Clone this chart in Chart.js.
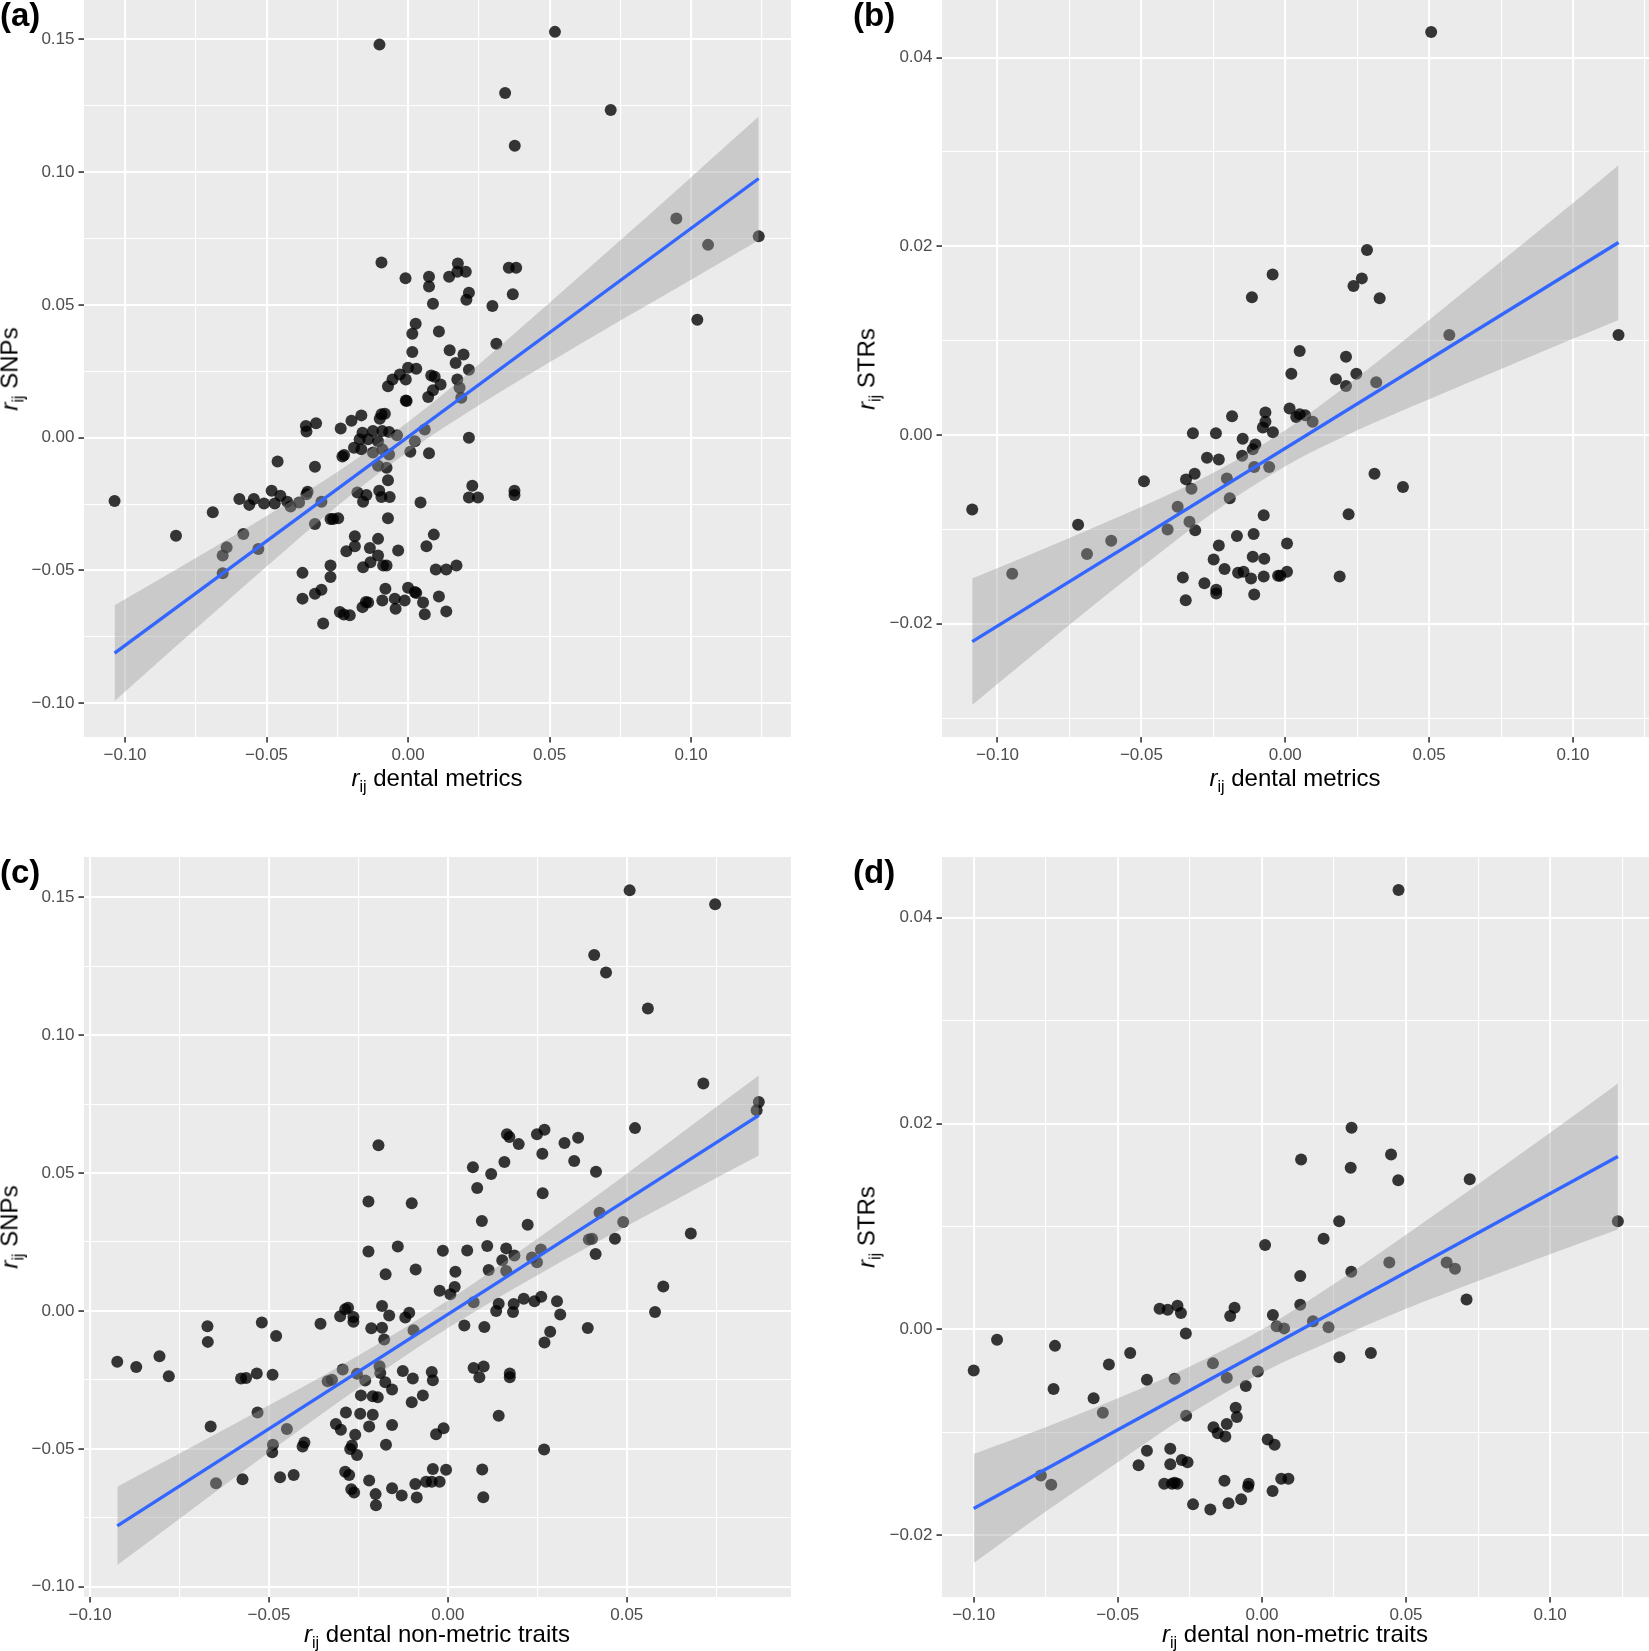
<!DOCTYPE html>
<html><head><meta charset="utf-8">
<script src="https://cdn.jsdelivr.net/npm/chart.js@4.4.0/dist/chart.umd.min.js"></script>
<style>
html,body{margin:0;padding:0;background:#fff;width:1649px;height:1651px;overflow:hidden;}
body{position:relative;}
canvas{position:absolute;z-index:1;}
.t{position:absolute;z-index:3;font-family:"Liberation Sans",Arial,Helvetica,sans-serif;color:#000;white-space:nowrap;}
.xt{font-size:24px;line-height:24px;transform:translateX(-50%);}
.yt{font-size:24px;line-height:24px;transform:translate(-50%,-50%) rotate(-90deg);}
.pl{font-size:33px;line-height:33px;font-weight:bold;}
.s{font-size:16px;position:relative;top:6px;}
</style></head><body>
<div class="t pl" style="left:0;top:-2px">(a)</div>
<div class="t pl" style="left:853px;top:-2px">(b)</div>
<div class="t pl" style="left:0;top:855px">(c)</div>
<div class="t pl" style="left:853px;top:855px">(d)</div>
<div class="t xt" style="left:437px;top:766px"><i>r</i><span class="s">ij</span> dental metrics</div>
<div class="t xt" style="left:1295px;top:766px"><i>r</i><span class="s">ij</span> dental metrics</div>
<div class="t xt" style="left:437px;top:1622px"><i>r</i><span class="s">ij</span> dental non-metric traits</div>
<div class="t xt" style="left:1295px;top:1622px"><i>r</i><span class="s">ij</span> dental non-metric traits</div>
<div class="t yt" style="left:11px;top:369px"><i>r</i><span class="s">ij</span> SNPs</div>
<div class="t yt" style="left:868px;top:369px"><i>r</i><span class="s">ij</span> STRs</div>
<div class="t yt" style="left:11px;top:1227px"><i>r</i><span class="s">ij</span> SNPs</div>
<div class="t yt" style="left:868px;top:1227px"><i>r</i><span class="s">ij</span> STRs</div>
<script>
// ---------- tick values and labels ----------
const xTicksA = [-0.1,-0.075,-0.05,-0.025,0,0.025,0.05,0.075,0.1,0.125];
const xLabelsA = ['−0.10','','−0.05','','0.00','','0.05','','0.10',''];
const xTicksC = [-0.1,-0.075,-0.05,-0.025,0,0.025,0.05,0.075];
const xLabelsC = ['−0.10','','−0.05','','0.00','','0.05',''];
const yTicksSNP = [-0.1,-0.075,-0.05,-0.025,0,0.025,0.05,0.075,0.1,0.125,0.15];
const yLabelsSNP = ['−0.10','','−0.05','','0.00','','0.05','','0.10','','0.15'];
const yTicksSTR = [-0.03,-0.02,-0.01,0,0.01,0.02,0.03,0.04];
const yLabelsSTR = ['','−0.02','','0.00','','0.02','','0.04'];

// ---------- axis ranges ----------
const aXRange = [-0.1145, 0.1353], aYRange = [-0.1127, 0.1648];
const bXRange = [-0.1193, 0.1264], bYRange = [-0.032, 0.0461];
const cXRange = [-0.1017, 0.0959], cYRange = [-0.1037, 0.1646];
const dXRange = [-0.111, 0.1343],  dYRange = [-0.026, 0.0459];

// ---------- panel (a): dental metrics vs SNPs ----------
const aX = [-0.0094,-0.0009,0.0074,0.0074,0.0145,0.0176,0.0174,0.0204,0.0356,0.0382,
0.0215,0.0206,0.0088,0.0298,0.037,0.0027,0.0015,0.0109,0.0312,0.0015,
0.0147,0.0196,0.0168,0.0215,0.0,0.0029,-0.0029,-0.0055,-0.0008,-0.0071,
0.0082,0.0094,0.0115,0.0088,0.0071,0.0174,0.0182,0.0188,-0.0008,-0.0005,
-0.0165,-0.02,-0.0238,-0.0094,-0.0082,-0.01,-0.0161,-0.0124,-0.0091,-0.0067,
-0.0171,-0.0141,-0.0106,-0.0191,-0.0165,-0.0124,-0.0091,-0.0067,-0.0039,-0.0226,
-0.0232,-0.0106,-0.0076,0.0008,0.0024,0.0059,0.0074,0.0215,-0.0071,-0.0361,
-0.0359,-0.0325,-0.0461,-0.0329,-0.0482,-0.0451,-0.0596,-0.0545,-0.0561,-0.0509,
-0.0471,-0.0427,-0.0415,-0.0385,-0.0359,-0.0355,-0.0306,-0.0179,-0.0147,-0.0159,
-0.0102,-0.0094,-0.0065,0.0044,0.0227,0.0215,0.0247,0.0376,0.0376,-0.069,
-0.082,-0.0582,-0.0641,-0.0655,-0.0655,-0.0529,-0.0329,-0.0274,-0.0265,-0.0247,
-0.0071,-0.0188,-0.0188,-0.0218,-0.0106,-0.0135,-0.0106,-0.0035,0.0091,0.0065,
-0.0274,-0.0274,-0.0373,-0.0159,-0.0133,-0.0088,-0.0076,0.0098,0.0135,0.0171,
-0.0373,-0.0329,-0.0306,-0.008,0.0,0.0024,0.0029,0.0109,-0.0161,-0.0149,
-0.0141,-0.0091,-0.0047,-0.0012,-0.0044,0.0053,0.0059,0.0135,-0.0241,-0.0227,
-0.0206,-0.03,-0.1037,-0.0101,0.0519,0.0343,0.0377,0.0716,0.0948,0.106,
0.1239,0.1022];
const aY = [0.066,0.06,0.0606,0.0569,0.0606,0.0656,0.0625,0.0625,0.064,0.064,
0.0546,0.0519,0.0504,0.0496,0.054,0.0429,0.0391,0.04,0.0354,0.0323,
0.0329,0.0313,0.0281,0.0256,0.0263,0.026,0.0238,0.0219,0.0219,0.0194,
0.0234,0.0229,0.02,0.0179,0.0153,0.0219,0.0188,0.015,0.014,0.0138,
0.0084,0.0064,0.0035,0.0088,0.009,0.0071,0.0019,0.0025,0.0025,0.0021,
-0.0006,-0.0006,-0.0013,-0.0038,-0.0044,-0.0056,-0.0044,-0.0063,0.0009,-0.0065,
-0.0071,-0.0106,-0.0113,-0.0053,-0.0013,0.0031,-0.0059,0.0,-0.016,0.0044,
0.0023,0.0054,-0.009,-0.0109,-0.02,-0.0219,-0.0231,-0.0231,-0.0253,-0.0248,
-0.0248,-0.0241,-0.0259,-0.0244,-0.0213,-0.0204,-0.0241,-0.0206,-0.0216,-0.0241,
-0.02,-0.0223,-0.0223,-0.0244,-0.0181,-0.0225,-0.0225,-0.02,-0.0216,-0.0281,
-0.0369,-0.0363,-0.0413,-0.0444,-0.051,-0.0419,-0.0325,-0.0306,-0.0306,-0.0303,
-0.0303,-0.0371,-0.0409,-0.0428,-0.0381,-0.0415,-0.0444,-0.0425,-0.0365,-0.0409,
-0.0481,-0.0525,-0.0509,-0.0488,-0.0469,-0.0481,-0.0481,-0.0496,-0.0496,-0.0481,
-0.0606,-0.0588,-0.0573,-0.0569,-0.0565,-0.0581,-0.0585,-0.0598,-0.0638,-0.0619,
-0.0621,-0.0613,-0.0606,-0.0613,-0.0644,-0.0621,-0.0665,-0.0654,-0.0656,-0.0666,
-0.0669,-0.07,-0.0238,0.148,0.1528,0.1298,0.1099,0.1234,0.0825,0.0726,
0.0758,0.0444];
const aFitX = [-0.1037, 0.1239];
const aFitY = [-0.0811, 0.0976];
const aBandX  = [-0.1037,-0.075,-0.05,-0.025,0,0.025,0.05,0.075,0.1,0.1239];
const aBandLo = [-0.0991,-0.0719,-0.0485,-0.0257,-0.0053,0.0122,0.0284,0.0441,0.0595,0.0743];
const aBandHi = [-0.0631,-0.0453,-0.0295,-0.0129,0.0059,0.0276,0.0508,0.0743,0.0981,0.1209];

// ---------- panel (b): dental metrics vs STRs ----------
const bX = [0.0284,-0.0044,-0.0116,0.0266,0.0237,0.0328,0.005,0.0021,0.0211,0.0176,
0.0211,0.0247,0.0316,-0.0185,-0.0069,-0.0069,-0.0078,-0.0043,0.0015,0.0038,
0.005,0.0069,0.0095,-0.0321,-0.0241,-0.0148,-0.0104,-0.0113,-0.0272,-0.0231,
-0.015,-0.0108,-0.0056,-0.0203,-0.0193,-0.0315,-0.0345,-0.0326,-0.0491,-0.0374,
-0.0333,-0.0313,-0.0409,-0.0075,0.031,0.0409,0.022,-0.0605,-0.0689,-0.072,
-0.0168,-0.011,-0.0231,0.0006,-0.0249,-0.0113,-0.0073,-0.0211,-0.0164,-0.0145,
-0.0119,-0.0075,-0.0025,-0.0017,0.0006,0.0189,-0.0356,-0.0281,-0.024,-0.024,
-0.0346,-0.0108,-0.1088,-0.0949,0.0507,0.057,0.1158];
const bY = [0.0196,0.017,0.0146,0.0166,0.0158,0.0145,0.0089,0.0065,0.0083,0.0059,
0.0052,0.0065,0.0056,0.002,0.0024,0.0014,0.0008,0.0003,0.0028,0.0019,
0.0022,0.0021,0.0014,0.0002,0.0002,-0.0004,-0.001,-0.0015,-0.0024,-0.0026,
-0.0022,-0.0034,-0.0034,-0.0046,-0.0067,-0.0041,-0.0047,-0.0057,-0.0049,-0.0076,
-0.0092,-0.0101,-0.01,-0.0085,-0.0041,-0.0055,-0.0084,-0.0112,-0.0126,-0.0095,
-0.0107,-0.0105,-0.0117,-0.0115,-0.0132,-0.0129,-0.0131,-0.0142,-0.0146,-0.0145,
-0.0152,-0.015,-0.0149,-0.0149,-0.0145,-0.015,-0.0151,-0.0157,-0.0164,-0.0168,
-0.0175,-0.0169,-0.0079,-0.0147,0.0427,0.0106,0.0106];
const bFitX = [-0.1088, 0.1158];
const bFitY = [-0.0219, 0.0204];
const bBandX  = [-0.1088,-0.075,-0.05,-0.025,0,0.025,0.05,0.075,0.1,0.1158];
const bBandLo = [-0.0286,-0.0201,-0.014,-0.0082,-0.0033,0.0005,0.0038,0.007,0.0102,0.0122];
const bBandHi = [-0.0152,-0.0109,-0.0076,-0.004,0.0005,0.0061,0.0122,0.0184,0.0246,0.0286];

// ---------- panel (c): dental non-metric traits vs SNPs ----------
const cX = [-0.0194,-0.0222,-0.0101,-0.0222,-0.014,-0.0014,-0.0174,-0.009,-0.0023,0.0007,
-0.0184,-0.0164,-0.0279,-0.0287,-0.0264,-0.0264,-0.0301,-0.0356,-0.0214,-0.0184,
-0.0178,-0.0119,-0.0108,-0.0096,-0.0672,-0.0671,-0.052,-0.048,-0.0806,-0.078,
-0.0578,-0.0564,-0.0534,-0.049,-0.0294,-0.0324,-0.0336,-0.0254,-0.0231,-0.0191,
-0.0189,-0.0175,-0.0156,-0.0243,-0.021,-0.0196,-0.0126,-0.0098,-0.0045,-0.0042,
-0.007,-0.0101,-0.0285,-0.0245,-0.021,-0.0532,-0.0663,-0.045,-0.0313,-0.0299,
-0.022,-0.0156,-0.0259,-0.0033,-0.0012,-0.0489,-0.0491,-0.0406,-0.0401,-0.0268,
-0.0273,-0.0254,-0.0173,-0.0648,-0.0574,-0.0469,-0.0431,-0.0287,-0.0276,-0.027,
-0.0262,-0.022,-0.0202,-0.0201,-0.0156,-0.0129,-0.0091,-0.0087,-0.0061,-0.0045,
-0.0023,-0.0042,-0.0005,0.0508,0.0747,0.0409,0.0442,0.0559,0.0714,0.0869,
0.0863,0.0523,0.0165,0.0172,0.0198,0.0249,0.027,0.0326,0.0364,0.0264,
0.007,0.0121,0.0158,0.0082,0.0353,0.0414,0.0265,0.0095,0.0223,0.0424,
0.049,0.0467,0.0394,0.0403,0.0413,0.0679,0.0054,0.011,0.0163,0.0152,
0.0186,0.0114,0.0163,0.0021,0.0235,0.026,0.0249,0.0019,0.0072,0.0142,
0.0135,0.0184,0.0182,0.0212,0.0242,0.0261,0.0305,0.0314,0.0046,0.0102,
0.0391,0.0286,0.027,0.0602,0.0579,0.0072,0.01,0.0088,0.0173,0.0173,
0.0142,-0.0924,-0.0871,0.0099,0.0096,0.0269];
const cY = [0.0601,0.0397,0.0391,0.0216,0.0234,0.0218,0.0133,0.015,0.0073,0.0061,
0.0018,-0.0016,0.0012,0.0006,-0.0022,-0.0039,-0.0019,-0.0046,-0.0063,-0.0061,
-0.0103,-0.0024,-0.0006,-0.007,-0.0055,-0.0112,-0.0042,-0.0091,-0.0164,-0.0237,
-0.0245,-0.0243,-0.0227,-0.0231,-0.0212,-0.0249,-0.0255,-0.0228,-0.0252,-0.02,
-0.0225,-0.0258,-0.0285,-0.0306,-0.0309,-0.0313,-0.0218,-0.0245,-0.0221,-0.0251,
-0.0306,-0.0331,-0.0368,-0.0373,-0.0376,-0.0368,-0.0419,-0.0428,-0.041,-0.0431,
-0.0419,-0.0413,-0.0449,-0.0447,-0.0425,-0.0485,-0.0512,-0.0491,-0.0477,-0.0488,
-0.05,-0.0522,-0.0485,-0.0625,-0.061,-0.0603,-0.0595,-0.0583,-0.0595,-0.0646,
-0.0658,-0.0615,-0.0664,-0.0704,-0.0643,-0.0669,-0.0627,-0.0676,-0.0619,-0.0619,
-0.0619,-0.0573,-0.0576,0.1525,0.1475,0.1291,0.1227,0.1097,0.0825,0.0758,
0.0728,0.0663,0.0641,0.0631,0.0605,0.0641,0.0657,0.0609,0.0628,0.057,
0.0521,0.0497,0.054,0.0446,0.0544,0.0505,0.0427,0.0326,0.0313,0.0356,
0.0323,0.0262,0.0259,0.0262,0.0207,0.0281,0.0219,0.0236,0.0227,0.0184,
0.0201,0.0149,0.0145,0.0142,0.0194,0.0223,0.0177,0.0087,0.0032,0.0026,
0.0,0.0025,-0.0004,0.0044,0.0035,0.0052,0.0035,-0.0013,-0.0053,-0.0058,
-0.0062,-0.0075,-0.0114,0.0089,-0.0004,-0.0207,-0.0201,-0.024,-0.0227,-0.024,
-0.038,-0.0184,-0.0203,-0.0675,-0.0575,-0.0502];
const cFitX = [-0.0924, 0.0869];
const cFitY = [-0.0779, 0.0709];
const cBandX  = [-0.0924,-0.075,-0.05,-0.025,0,0.025,0.05,0.075,0.0869];
const cBandLo = [-0.0921,-0.0753,-0.0512,-0.0279,-0.0062,0.013,0.0308,0.0482,0.0564];
const cBandHi = [-0.0637,-0.0517,-0.0342,-0.0161,0.0038,0.0262,0.0498,0.074,0.0854];

// ---------- panel (d): dental non-metric traits vs STRs ----------
const dX = [-0.1,-0.0919,-0.0718,-0.0723,-0.0767,-0.0731,-0.0584,-0.0552,-0.0531,-0.0457,
-0.0399,-0.0303,-0.0355,-0.0327,-0.0293,-0.0281,-0.0264,-0.017,-0.0122,-0.0056,
-0.0014,-0.011,-0.0095,0.0011,0.0038,0.0051,0.0077,0.0133,0.0133,0.0136,
0.0177,0.0214,0.0231,0.0268,0.0269,0.031,0.0311,0.0308,0.0378,0.0442,
0.0448,0.0473,-0.0263,-0.0091,-0.0087,-0.0168,-0.0153,-0.0127,-0.0122,0.002,
0.0044,-0.0399,-0.0428,-0.0318,-0.0318,-0.0278,-0.0258,-0.0339,-0.0312,-0.0303,
-0.0293,-0.013,-0.0046,-0.0048,0.0067,0.0092,0.0037,-0.0239,-0.0179,-0.0116,
-0.0072,0.0474,0.1235,0.071,0.0641,0.067,0.0721];
const dY = [-0.004,-0.001,-0.0016,-0.0058,-0.0142,-0.0151,-0.0067,-0.0081,-0.0034,-0.0023,
-0.0049,-0.0048,0.002,0.0019,0.0023,0.0016,-0.0004,-0.0033,-0.0047,-0.0055,
-0.0041,0.0013,0.0021,0.0082,0.0014,0.0003,0.0001,0.0024,0.0052,0.0165,
0.0008,0.0088,0.0002,0.0105,-0.0027,0.0056,0.0196,0.0157,-0.0023,0.0065,
0.017,0.0145,-0.0084,-0.0076,-0.0085,-0.0095,-0.0101,-0.0104,-0.0092,-0.0107,
-0.0112,-0.0118,-0.0132,-0.0116,-0.0131,-0.0127,-0.0129,-0.015,-0.015,-0.0149,
-0.015,-0.0147,-0.015,-0.0153,-0.0145,-0.0145,-0.0157,-0.017,-0.0175,-0.0169,
-0.0165,0.0427,0.0105,0.0029,0.0065,0.0059,0.0146];
const dFitX = [-0.1, 0.1235];
const dFitY = [-0.0174, 0.0168];
const dBandX  = [-0.1,-0.075,-0.05,-0.025,0,0.025,0.05,0.075,0.1,0.1235];
const dBandLo = [-0.0227,-0.0177,-0.0129,-0.0082,-0.0042,-0.001,0.002,0.0047,0.0073,0.0097];
const dBandHi = [-0.0121,-0.0095,-0.0067,-0.0036,0.0,0.0044,0.0092,0.0141,0.0191,0.0239];

// ---------- drawing ----------
const FONT = '"Liberation Sans", Arial, Helvetica, sans-serif';
const Y_AXIS_W = 84, X_AXIS_H = 30, PAD_T = 30;

const panelBg = {
  id: 'panelBg',
  beforeDraw(chart) {
    const {ctx, chartArea: a} = chart;
    ctx.save();
    ctx.fillStyle = '#EBEBEB';
    ctx.fillRect(a.left, a.top, a.right - a.left, a.bottom - a.top);
    ctx.restore();
  }
};

const pts = (xs, ys) => xs.map((v, i) => ({x: v, y: ys[i]}));

function axis(isX, range, ticks, labels) {
  return {
    type: 'linear', bounds: 'data', min: range[0], max: range[1],
    afterBuildTicks: s => { s.ticks = ticks.map(v => ({value: v})); },
    afterFit: s => { if (isX) s.height = X_AXIS_H; else s.width = Y_AXIS_W; },
    ticks: {
      autoSkip: false, maxRotation: 0, minRotation: 0,
      padding: isX ? 3 : 4, color: '#4D4D4D',
      font: {family: FONT, size: 17},
      callback: (v, i) => labels[i]
    },
    grid: {
      color: '#FFFFFF',
      lineWidth: c => (labels[c.index] ? 2.1 : 1.1),
      drawTicks: true, tickLength: 5.5, tickWidth: 1.6,
      tickColor: c => (labels[c.index] ? '#333333' : 'rgba(0,0,0,0)')
    },
    border: {display: false}
  };
}

function panel(geom, d) {
  const padR = geom.padR;
  const cv = document.createElement('canvas');
  const w = Y_AXIS_W + (geom.r - geom.l) + padR;
  const h = PAD_T + (geom.b - geom.t) + X_AXIS_H;
  cv.width = w; cv.height = h;
  cv.style.width = w + 'px'; cv.style.height = h + 'px';
  cv.style.left = (geom.l - Y_AXIS_W) + 'px';
  cv.style.top = (geom.t - PAD_T) + 'px';
  document.body.appendChild(cv);
  new Chart(cv.getContext('2d'), {
    type: 'scatter',
    data: {
      datasets: [
        {type: 'scatter', data: pts(d.x, d.y), pointRadius: 6, pointBorderWidth: 0,
         pointBackgroundColor: 'rgba(0,0,0,0.78)', order: 3},
        {type: 'line', data: pts(d.bandX, d.bandHi), pointRadius: 0, borderWidth: 1,
         borderColor: 'rgba(0,0,0,0)', fill: '+1', backgroundColor: 'rgba(153,153,153,0.4)',
         cubicInterpolationMode: 'monotone', order: 2},
        {type: 'line', data: pts(d.bandX, d.bandLo), pointRadius: 0, borderWidth: 1,
         borderColor: 'rgba(0,0,0,0)', fill: false,
         cubicInterpolationMode: 'monotone', order: 2},
        {type: 'line', data: pts(d.fitX, d.fitY), pointRadius: 0, borderWidth: 3.3,
         borderColor: '#3366FF', fill: false, order: 1}
      ]
    },
    options: {
      responsive: false, animation: false, devicePixelRatio: 1, events: [],
      layout: {autoPadding: false, padding: {top: PAD_T, right: padR, left: 0, bottom: 0}},
      plugins: {legend: {display: false}, tooltip: {enabled: false}},
      scales: {
        x: axis(true, d.xRange, d.xTicks, d.xLabels),
        y: axis(false, d.yRange, d.yTicks, d.yLabels)
      }
    },
    plugins: [panelBg]
  });
}

panel({l: 84, r: 791, t: 0, b: 737, padR: 40},
  {x: aX, y: aY, fitX: aFitX, fitY: aFitY, bandX: aBandX, bandLo: aBandLo, bandHi: aBandHi,
   xRange: aXRange, yRange: aYRange, xTicks: xTicksA, xLabels: xLabelsA, yTicks: yTicksSNP, yLabels: yLabelsSNP});
panel({l: 942, r: 1649, t: 0, b: 737, padR: 0},
  {x: bX, y: bY, fitX: bFitX, fitY: bFitY, bandX: bBandX, bandLo: bBandLo, bandHi: bBandHi,
   xRange: bXRange, yRange: bYRange, xTicks: xTicksA, xLabels: xLabelsA, yTicks: yTicksSTR, yLabels: yLabelsSTR});
panel({l: 84, r: 791, t: 857, b: 1597, padR: 40},
  {x: cX, y: cY, fitX: cFitX, fitY: cFitY, bandX: cBandX, bandLo: cBandLo, bandHi: cBandHi,
   xRange: cXRange, yRange: cYRange, xTicks: xTicksC, xLabels: xLabelsC, yTicks: yTicksSNP, yLabels: yLabelsSNP});
panel({l: 942, r: 1649, t: 857, b: 1597, padR: 0},
  {x: dX, y: dY, fitX: dFitX, fitY: dFitY, bandX: dBandX, bandLo: dBandLo, bandHi: dBandHi,
   xRange: dXRange, yRange: dYRange, xTicks: xTicksA, xLabels: xLabelsA, yTicks: yTicksSTR, yLabels: yLabelsSTR});
</script>
</body></html>
